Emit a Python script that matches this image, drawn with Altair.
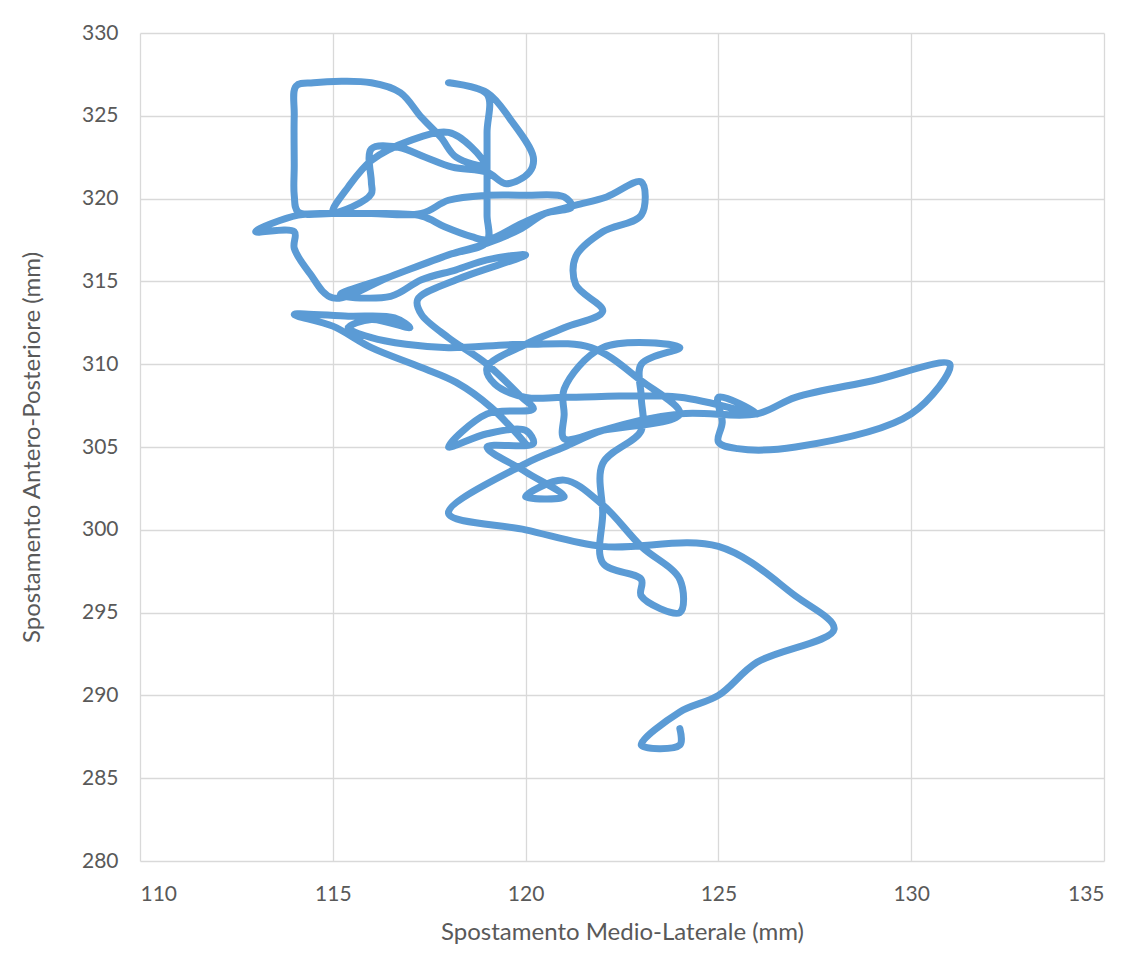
import altair as alt
import pandas as pd

# Path of the centre of pressure (mm), drawn in this order, segment by segment.
# Segment 1: bottom hook, right loop, return along y=308
seg1_x = [124, 124, 123, 124, 125, 126, 128, 127, 125, 122, 120, 118, 120, 121, 122, 124, 126, 127, 129, 131,
          130, 127, 125.5, 125, 125.1, 125, 126, 124, 121, 120]
seg1_y = [288, 287, 287, 289, 290, 292, 294, 296, 299, 299, 300, 301, 304, 305, 306, 307, 307, 308, 309, 310,
          307, 305, 304.9, 305.3, 306.5, 308, 307, 308, 308, 308]
# Segment 2: small loop, rise to the S curve, back left along y=319
seg2_x = [119.2, 119, 120, 121, 122, 121.3, 121.3, 122, 123, 123, 122.1, 121.3, 120.5, 119.9, 119,
          118.6, 117.9, 117.3, 116, 115, 114.1]
seg2_y = [308.8, 309.8, 311.2, 312.2, 313.2, 314.8, 316.5, 318, 319, 321, 320.1, 319.6, 319.1, 318.5, 317.5,
          317.7, 318.3, 318.95, 319.1, 319.1, 319]
# Segment 3: left spike, fan, upper loops, arcs, rectangle
seg3_x = [113, 114, 114, 114.4, 115, 116.5, 118, 119, 119, 119, 119, 119, 118, 119, 119.6, 120.2, 120.1, 119.5,
          119, 118.1, 117.4, 116.7, 116, 116, 116, 115.5, 115,
          115.4, 116, 117, 118, 118.6, 118.95,
          118.2, 117.8, 117.3, 116.75, 116, 114.5, 114.05, 114, 114, 114, 114.1,
          115, 116, 117.3, 118, 119, 120, 121, 121.2, 120.5]
seg3_y = [318, 318, 317, 315.5, 314, 315.3, 316.6, 317.4, 319, 321, 324, 326.3, 327, 326.4, 324.8, 322.5, 321.6, 320.9,
          321.6, 321.9, 322.5, 323.1, 323, 321, 320.3, 319.5, 319.2,
          320.7, 322.3, 323.5, 324, 323.1, 322,
          322.5, 323.7, 324.9, 326.4, 327, 327, 326.8, 325, 322, 320.2, 319.2,
          319.1, 319.1, 319.1, 319.9, 320.2, 320.2, 320.1, 319.5, 319.1]
# Segment 4: fan of strokes between (115,314) and (120,317)
seg4_x = [119.9, 119, 118, 116.5, 115.2, 116.5, 117.3, 118.2, 119, 120, 118.2, 117.2]
seg4_y = [318.2, 317.3, 316.6, 315.3, 314.2, 314.1, 315.1, 315.7, 316.3, 316.6, 315.1, 313.9]
# Segment 5: descent through the centre, hook, x=122 column
seg5_x = [117.3, 118, 119, 119.9, 120.2, 119, 118, 119, 120, 120.2, 119, 120, 121, 120, 121, 122, 123, 124, 124,
          123, 123, 122, 122, 122, 123, 123, 123, 124, 122, 121, 121, 121, 122, 124]
seg5_y = [313.0, 311.6, 310, 308, 307.3, 307, 305, 305.8, 306, 305.2, 305, 303.5, 302, 302, 303, 301.5, 299, 297, 295,
          296, 297, 298, 301, 304, 306, 308, 310, 311, 311, 308.5, 307, 305.5, 306, 307]
# Segment 6: back along y=311, small loop, left end, diagonal down to (120,305)
seg6_x = [123, 121.7, 120, 118, 116.9, 116, 115.4, 116, 117, 116.6, 115.4, 114, 115, 116, 117.3, 118.2, 119.1, 120]
seg6_y = [309, 311, 311.2, 311, 311.2, 311.6, 312.2, 312.7, 312.2, 312.8, 312.9, 313, 312.3, 311, 309.8, 308.9, 307.4, 305.2]

x_ticks = [110, 115, 120, 125, 130, 135]
y_ticks = [280, 285, 290, 295, 300, 305, 310, 315, 320, 325, 330]

xs = seg1_x + seg2_x + seg3_x + seg4_x + seg5_x + seg6_x
ys = seg1_y + seg2_y + seg3_y + seg4_y + seg5_y + seg6_y
df = pd.DataFrame({"x": xs, "y": ys, "i": list(range(len(xs)))})

FONT = "Lato"
GREY = "#595959"

chart = alt.Chart(df).mark_line(
    interpolate="catmull-rom",
    strokeWidth=7,
    color="#5B9BD5",
    strokeCap="round",
    strokeJoin="round",
).encode(
    x=alt.X("x:Q", scale=alt.Scale(domain=[110, 135], nice=False, zero=False),
            axis=alt.Axis(values=x_ticks, title="Spostamento Medio-Laterale (mm)",
                          labelPadding=22, titlePadding=16)),
    y=alt.Y("y:Q", scale=alt.Scale(domain=[280, 330], nice=False, zero=False),
            axis=alt.Axis(values=y_ticks, title="Spostamento Antero-Posteriore (mm)",
                          labelPadding=22, titlePadding=37)),
    order="i:Q",
).properties(
    width=964,
    height=828,
    autosize=alt.AutoSizeParams(type="none"),
    padding={"left": 132, "top": 25, "right": 30, "bottom": 90},
).configure_axis(
    grid=True,
    gridColor="#D9D9D9",
    gridWidth=1.3,
    domain=False,
    ticks=False,
    labelFont=FONT,
    labelFontSize=21,
    labelColor=GREY,
    titleFont=FONT,
    titleFontSize=24,
    titleFontWeight="normal",
    titleColor=GREY,
).configure_view(stroke=None)

chart.save("out.html", embed_options={"renderer": "svg", "actions": False})
